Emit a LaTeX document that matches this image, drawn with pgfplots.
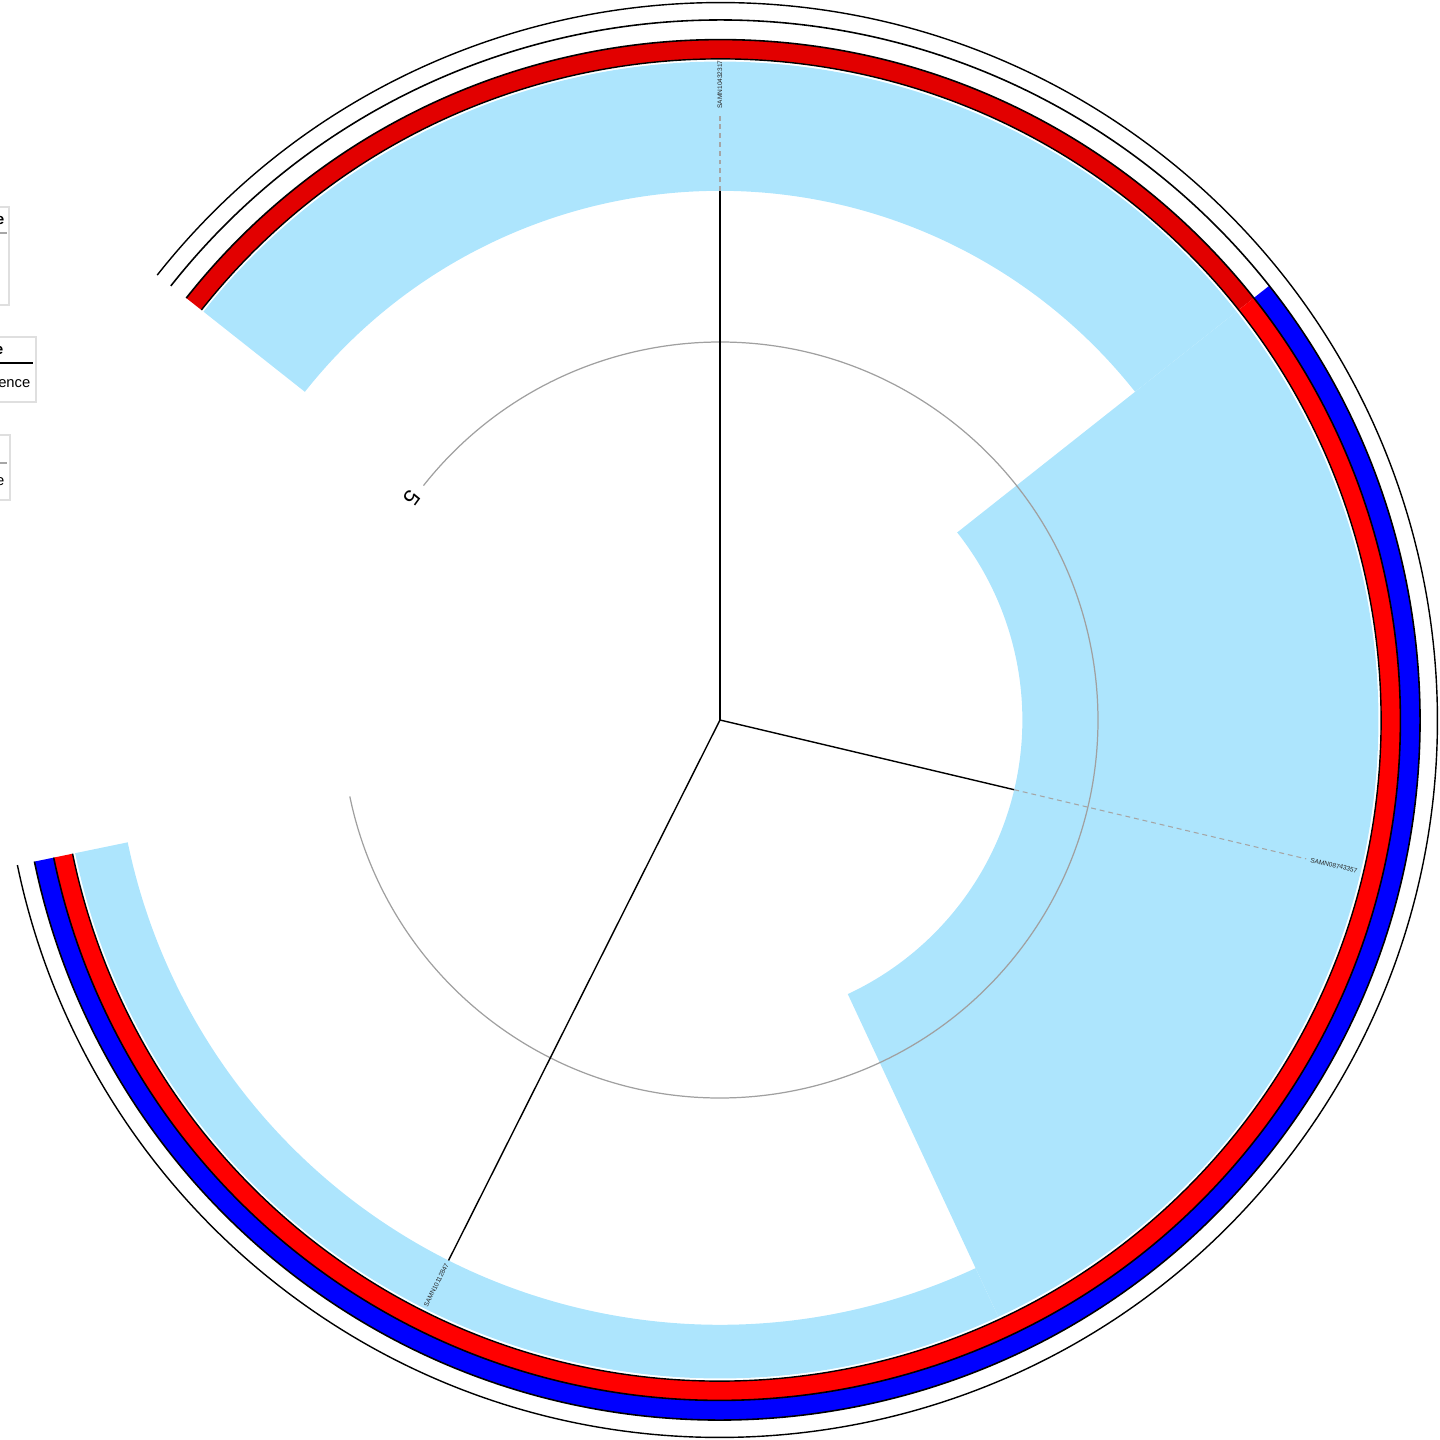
\documentclass[border=0pt]{standalone}
\usepackage{fontspec}
\setmainfont{Liberation Sans}
\usepackage{pgfplots}
\pgfplotsset{compat=1.18}
\definecolor{hl}{RGB}{173,229,253}
\definecolor{redA}{RGB}{226,0,0}
\definecolor{redB}{RGB}{255,0,0}
\definecolor{blueB}{RGB}{0,0,255}
\definecolor{scalegray}{RGB}{160,160,160}
\definecolor{dashgray}{RGB}{165,165,165}
\definecolor{labgray}{RGB}{40,40,40}
\newcommand{\unitlen}{0.756cm}
% annular sector: colour, start angle, end angle, inner r, outer r
\newcommand{\sector}[5]{\fill[#1] (axis cs:0,0) ++(#2:#4*\unitlen) arc[start angle=#2,end angle=#3,radius=#4*\unitlen] -- ++(#3:#5*\unitlen-#4*\unitlen) arc[start angle=#3,end angle=#2,radius=#5*\unitlen] -- cycle;}
% arc line: style, start angle, end angle, r
\newcommand{\ringarc}[4]{\draw[#1] (axis cs:0,0) ++(#2:#4*\unitlen) arc[start angle=#2,end angle=#3,radius=#4*\unitlen];}
\begin{document}
\begin{tikzpicture}
\useasboundingbox (-7.2,-7.2) rectangle (7.2,7.2);
\clip (-7.2,-7.2) rectangle (7.2,7.2);
\begin{axis}[hide axis, x=\unitlen, y=\unitlen,
  xmin=-9.5238, xmax=9.5238, ymin=-9.5238, ymax=9.5238,
  anchor=center, at={(0,0)}, clip=false]
% clade highlights (leaf sectors), from branch tip to 8.71
\sector{hl}{141.67}{38.33}{7}{8.71}
\sector{hl}{38.33}{-65}{4}{8.71}
\sector{hl}{-65}{-168.33}{8}{8.71}
% ring 1 (red)
\sector{redA}{141.67}{38.33}{8.745}{9.0}
\sector{redB}{38.33}{-168.33}{8.745}{9.0}
% ring 2 (blue)
\sector{blueB}{38.33}{-168.33}{9.0}{9.26}
% ring outlines
\ringarc{black,line width=0.4pt}{141.67}{-168.33}{8.745}
\ringarc{black,line width=0.45pt}{141.67}{-168.33}{9.0}
\ringarc{black,line width=0.45pt}{141.67}{-168.33}{9.26}
\ringarc{black,line width=0.4pt}{141.67}{-168.33}{9.49}
% scale circle at 5
\ringarc{scalegray,line width=0.35pt}{141.67}{-168.33}{5}
\path (axis cs:0,0) ++(144.2:5.02*\unitlen) node[rotate=-126,inner sep=0,font=\fontsize{6.3}{7}\selectfont] {5};
% tree branches (angle, length)
\addplot[black, line width=0.4pt, data cs=polar] coordinates {(90,0) (90,7)};
\addplot[black, line width=0.4pt, data cs=polar] coordinates {(-13.33,0) (-13.33,4)};
\addplot[black, line width=0.4pt, data cs=polar] coordinates {(-116.67,0) (-116.67,8)};
% dashed leaf connectors
\addplot[dashgray, line width=0.3pt, dash pattern=on 1.4pt off 1.1pt, data cs=polar] coordinates {(90,7) (90,7.99)};
\addplot[dashgray, line width=0.3pt, dash pattern=on 1.4pt off 1.1pt, data cs=polar] coordinates {(-13.33,4) (-13.33,7.97)};
% leaf labels
\path (axis cs:0,0) ++(90:8.08*\unitlen) node[rotate=90,anchor=west,inner sep=0,text=labgray,font=\fontsize{1.86}{2.2}\selectfont] {SAMN10432317};
\path (axis cs:0,0) ++(-13.33:8.02*\unitlen) node[rotate=-13.33,anchor=west,inner sep=0,text=labgray,font=\fontsize{1.86}{2.2}\selectfont] {SAMN08743357};
\path (axis cs:0,0) ++(-116.67:8.04*\unitlen) node[rotate=63.33,anchor=east,inner sep=0,text=labgray,font=\fontsize{1.86}{2.2}\selectfont] {SAMN10112847};
\end{axis}
% legends (cut off at the left edge, as in the reference)
\draw[gray!25, fill=white, line width=0.4pt] (-8,5.13) rectangle (-7.11,4.15);
\node[anchor=base east, inner sep=0, font=\bfseries\fontsize{4.3}{5}\selectfont] at (-7.15,4.955) {Source};
\draw[gray!70, line width=0.4pt] (-8,4.87) -- (-7.13,4.87);
\draw[gray!25, fill=white, line width=0.4pt] (-8,3.83) rectangle (-6.84,3.18);
\node[anchor=base east, inner sep=0, font=\bfseries\fontsize{4.3}{5}\selectfont] at (-7.16,3.65) {Gene type};
\draw[black, line width=0.4pt] (-8,3.57) -- (-6.87,3.57);
\node[anchor=base east, inner sep=0, font=\fontsize{4.2}{5}\selectfont] at (-6.89,3.32) {Presence};
\draw[gray!25, fill=white, line width=0.4pt] (-8,2.85) rectangle (-7.1,2.2);
\draw[gray!70, line width=0.4pt] (-8,2.57) -- (-7.13,2.57);
\node[anchor=base east, inner sep=0, font=\fontsize{4.2}{5}\selectfont] at (-7.15,2.34) {Bovine};
\end{tikzpicture}
\end{document}
